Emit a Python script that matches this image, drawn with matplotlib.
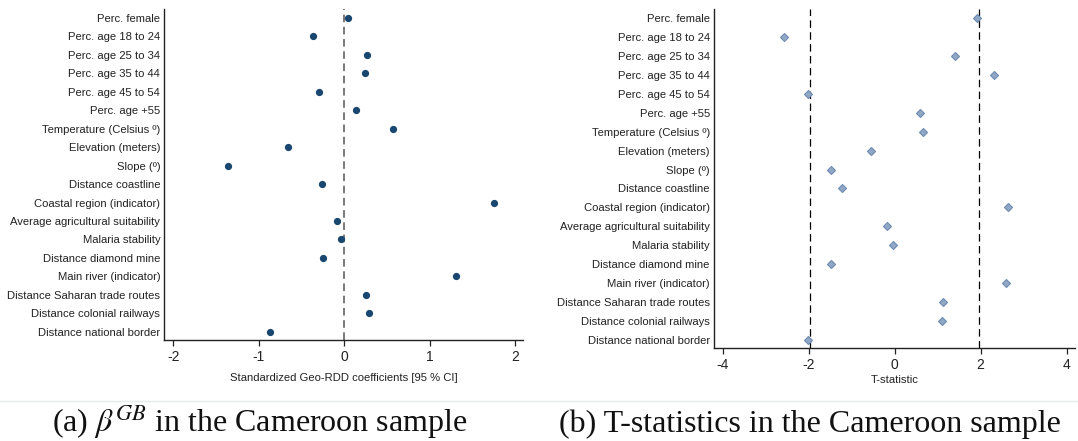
import matplotlib
matplotlib.use("Agg")
import matplotlib.pyplot as plt
from matplotlib.lines import Line2D

plt.rcParams['font.family'] = ['Liberation Sans', 'DejaVu Sans']
plt.rcParams['mathtext.fontset'] = 'stix'
plt.rcParams['axes.unicode_minus'] = False

variables = [
    "Perc. female", "Perc. age 18 to 24", "Perc. age 25 to 34", "Perc. age 35 to 44",
    "Perc. age 45 to 54", "Perc. age +55", "Temperature (Celsius \u00ba)", "Elevation (meters)",
    "Slope (\u00ba)", "Distance coastline", "Coastal region (indicator)",
    "Average agricultural suitability", "Malaria stability", "Distance diamond mine",
    "Main river (indicator)", "Distance Saharan trade routes", "Distance colonial railways",
    "Distance national border",
]
coefficients = [0.04, -0.37, 0.26, 0.24, -0.30, 0.14, 0.57, -0.66, -1.36, -0.26,
                1.75, -0.08, -0.04, -0.25, 1.31, 0.25, 0.29, -0.87]
t_stats = [1.91, -2.57, 1.40, 2.31, -2.01, 0.58, 0.67, -0.55, -1.49, -1.23,
           2.64, -0.18, -0.04, -1.48, 2.60, 1.12, 1.10, -2.02]
left_ticks = [-2, -1, 0, 1, 2]
right_ticks = [-4, -2, 0, 2, 4]
crit_values = [-1.96, 1.96]
left_xlabel = "Standardized Geo-RDD coefficients [95 % CI]"
right_xlabel = "T-statistic"
caption_a = r"(a) $\beta^{GB}$ in the Cameroon sample"
caption_b = "(b) T-statistics in the Cameroon sample"

W, H = 1078, 441
fig = plt.figure(figsize=(W / 100, H / 100), dpi=100)

ypos = list(range(len(variables)))

def style(ax):
    for s in ['top', 'right']:
        ax.spines[s].set_visible(False)
    for s in ['left', 'bottom']:
        ax.spines[s].set_linewidth(1.0)
        ax.spines[s].set_color('#222222')
    ax.set_yticks(ypos)
    ax.set_yticklabels(variables, fontsize=8.1, color='#222222')
    ax.tick_params(axis='y', length=0, pad=3)
    ax.tick_params(axis='x', length=4, width=0.9, pad=3, labelsize=10, colors='#222222')

# Left panel
ax1 = fig.add_axes([164.3 / W, (H - 340) / H, 359.1 / W, 331 / H])
ax1.axvline(0, color='#555555', lw=1.1, ls=(0, (5, 3)), zorder=1)
ax1.plot(coefficients, ypos, 'o', color='#1a476f', markersize=4.2, ls='none', zorder=3)
ax1.set_xlim(-2.105, 2.095)
ax1.set_ylim(17.45, -0.49)
ax1.set_xticks(left_ticks)
style(ax1)
ax1.set_xlabel(left_xlabel, fontsize=8.1, labelpad=7, color='#222222')

# Right panel
ax2 = fig.add_axes([714 / W, (H - 348.3) / H, 361.2 / W, 339.3 / H])
for c in crit_values:
    ax2.axvline(c, color='black', lw=0.9, ls=(0, (6, 3.5)), zorder=1)
ax2.plot(t_stats, ypos, 'D', markerfacecolor='#90a8c6', markeredgecolor='#6d8cb0',
         markeredgewidth=0.8, markersize=4.3, ls='none', zorder=3)
ax2.set_xlim(-4.2, 4.2)
ax2.set_ylim(17.44, -0.475)
ax2.set_xticks(right_ticks)
style(ax2)
ax2.set_xlabel(right_xlabel, fontsize=8.1, labelpad=2, color='#222222')

# separator line
fig.add_artist(Line2D([0, 1], [(H - 401) / H] * 2, transform=fig.transFigure,
                      color='#e4ecec', lw=1.0))

cap_kw = dict(fontsize=23, family=['Liberation Serif', 'DejaVu Serif'],
              ha='center', va='baseline', color='#111111')
fig.text(259.5 / W, (H - 431.7) / H, caption_a, **cap_kw)
fig.text(810 / W, (H - 431.7) / H, caption_b, **cap_kw)

fig.savefig("out.png", dpi=100)
